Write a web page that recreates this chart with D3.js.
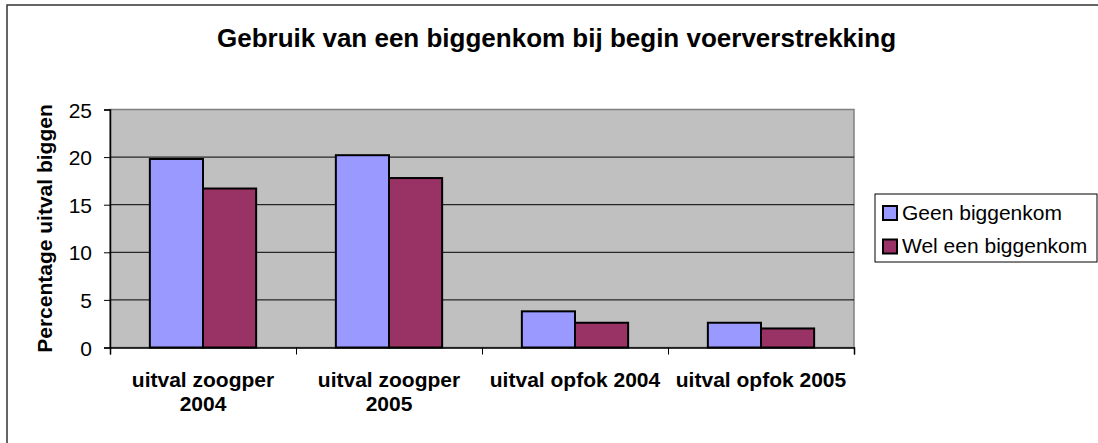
<!DOCTYPE html>
<html>
<head>
<meta charset="utf-8">
<script src="https://cdn.jsdelivr.net/npm/d3@7"></script>
<style>
  body { margin: 0; background: #fff; }
  text { font-family: "Liberation Sans", Arial, sans-serif; fill: #000; }
</style>
</head>
<body>
<svg id="chart" width="1098" height="443"></svg>
<script>
// data
var categories = [["uitval zoogper", "2004"], ["uitval zoogper", "2005"], ["uitval opfok 2004"], ["uitval opfok 2005"]];
var seriesNames = ["Geen biggenkom", "Wel een biggenkom"];
var geenValues = [19.8, 20.2, 3.8, 2.6];
var welValues = [16.7, 17.8, 2.6, 2.0];
var yTicks = [0, 5, 10, 15, 20, 25];
var colors = ["#9999ff", "#993366"];

var svg = d3.select("#chart");

// cadre du graphique
svg.append("rect")
  .attr("x", 7).attr("y", 5)
  .attr("width", 1200).attr("height", 600)
  .attr("fill", "#fff")
  .attr("stroke", "#333").attr("stroke-width", 1.5);

var plotLeft = 110, plotRight = 854, plotTop = 109.5, plotBottom = 347.5;

var x = d3.scaleBand().domain(d3.range(categories.length)).range([plotLeft, plotRight]);
var x1 = d3.scaleBand().domain([0, 1]).range([0, x.bandwidth()]).paddingOuter(0.75).paddingInner(0);
var y = d3.scaleLinear().domain([0, 25]).range([plotBottom, plotTop]);

// plot area
svg.append("rect")
  .attr("x", plotLeft).attr("y", plotTop)
  .attr("width", plotRight - plotLeft).attr("height", plotBottom - plotTop)
  .attr("fill", "#c0c0c0")
  .attr("stroke", "#808080").attr("stroke-width", 1.5);

// grille
svg.append("g").selectAll("line")
  .data(yTicks.filter(d => d > 0 && d < 25))
  .enter().append("line")
  .attr("x1", plotLeft).attr("x2", plotRight)
  .attr("y1", d => y(d)).attr("y2", d => y(d))
  .attr("stroke", "#000").attr("stroke-width", 1);

// barres
var series = [geenValues, welValues];
series.forEach(function(vals, s) {
  svg.append("g").selectAll("rect")
    .data(vals)
    .enter().append("rect")
    .attr("x", (d, i) => x(i) + x1(s))
    .attr("y", d => y(d))
    .attr("width", x1.bandwidth())
    .attr("height", d => y(0) - y(d))
    .attr("fill", colors[s])
    .attr("stroke", "#000")
    .attr("stroke-width", 2);
});

// axe Y
var yAxis = svg.append("g")
  .attr("transform", `translate(${plotLeft},0)`)
  .call(d3.axisLeft(y).tickValues(yTicks).tickSize(6).tickPadding(12));
yAxis.select(".domain").attr("stroke", "#000").attr("stroke-width", 1.5);
yAxis.selectAll("line").attr("stroke", "#000");
yAxis.selectAll("text")
  .style("font-family", "Liberation Sans, Arial, sans-serif")
  .style("font-size", "21px")
  .attr("dy", "0.36em");

// axe X
var xAxis = svg.append("g")
  .attr("transform", `translate(0,${plotBottom})`)
  .call(d3.axisBottom(d3.scaleLinear().domain([0, 4]).range([plotLeft, plotRight])).ticks(4).tickSize(7).tickFormat(""));
xAxis.select(".domain").attr("stroke", "#000").attr("stroke-width", 1.5);
xAxis.selectAll("line").attr("stroke", "#000");

var xl = svg.append("g").selectAll("text")
  .data(categories)
  .enter().append("text")
  .attr("x", (d, i) => x(i) + x.bandwidth() / 2)
  .attr("y", 386.7)
  .attr("text-anchor", "middle")
  .style("font-size", "21px")
  .style("font-weight", "bold");
xl.selectAll("tspan")
  .data(d => d)
  .enter().append("tspan")
  .attr("x", function() { return d3.select(this.parentNode).attr("x"); })
  .attr("dy", (d, i) => i === 0 ? 0 : 24)
  .text(d => d);

// titre Y
svg.append("text")
  .attr("transform", `translate(52,${(plotTop + plotBottom) / 2}) rotate(-90)`)
  .attr("text-anchor", "middle")
  .style("font-size", "21px")
  .style("font-weight", "bold")
  .text("Percentage uitval biggen");

// titre
svg.append("text")
  .attr("x", 556.5).attr("y", 46.5)
  .attr("text-anchor", "middle")
  .style("font-size", "26px")
  .style("font-weight", "bold")
  .text("Gebruik van een biggenkom bij begin voerverstrekking");

// légende
var legend = svg.append("g");
legend.append("rect")
  .attr("x", 875).attr("y", 194)
  .attr("width", 222).attr("height", 68)
  .attr("fill", "#fff").attr("stroke", "#000").attr("stroke-width", 1);
var li = legend.selectAll("g.item")
  .data(seriesNames)
  .enter().append("g")
  .attr("transform", (d, i) => `translate(883,${206 + i * 33.5})`);
li.append("rect")
  .attr("width", 14).attr("height", 14)
  .attr("fill", (d, i) => colors[i])
  .attr("stroke", "#000").attr("stroke-width", 2);
li.append("text")
  .attr("x", 19).attr("y", 13.5)
  .style("font-size", "21px")
  .text(d => d);
</script>
</body>
</html>
